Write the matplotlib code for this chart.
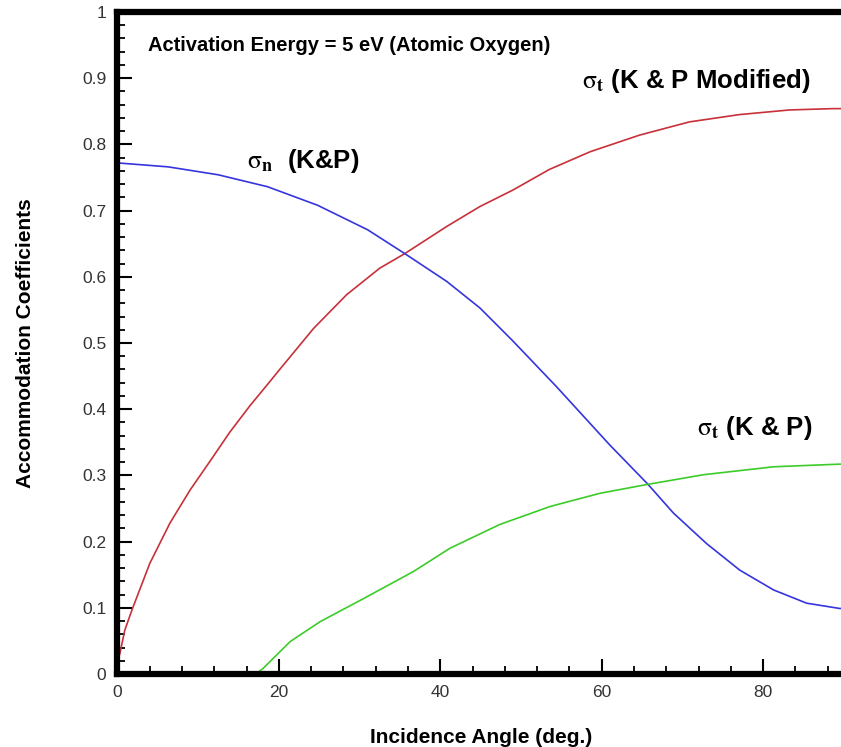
import numpy as np
import matplotlib
matplotlib.use("Agg")
import matplotlib.pyplot as plt
from matplotlib.ticker import MultipleLocator

plt.rcParams['font.family'] = ['Liberation Sans', 'DejaVu Sans']
plt.rcParams['mathtext.fontset'] = 'stix'

# sigma_t (K & P Modified) - red
ang_red = [0, 0.3, 0.9, 1.8, 4.0, 6.5, 9.0, 11.5, 13.9, 16.4, 18.9, 20.1, 24.3, 28.4,
           32.5, 35.6, 40.8, 44.9, 49.0, 53.5, 58.6, 64.7, 70.9, 77.1, 83.3, 88.7, 90]
sig_red = [0.02, 0.031, 0.066, 0.097, 0.167, 0.228, 0.278, 0.322, 0.365, 0.405, 0.442, 0.46,
           0.522, 0.573, 0.613, 0.635, 0.676, 0.706, 0.731, 0.762, 0.789, 0.814, 0.834,
           0.845, 0.852, 0.854, 0.854]

# sigma_n (K&P) - blue
ang_blue = [0, 6.3, 12.5, 18.6, 24.8, 31.0, 35.6, 40.8, 44.9, 49.0, 54.4, 61.0, 65.7,
            68.9, 73.0, 77.1, 81.3, 85.4, 89.5, 90]
sig_blue = [0.772, 0.766, 0.754, 0.736, 0.708, 0.671, 0.635, 0.593, 0.553, 0.503, 0.434,
            0.346, 0.287, 0.243, 0.197, 0.157, 0.127, 0.107, 0.099, 0.099]

# sigma_t (K & P) - green
ang_green = [17.1, 18.0, 21.4, 25.1, 30.5, 36.7, 41.2, 47.4, 53.6, 59.8, 65.5, 72.6,
             81.3, 89.5, 90]
sig_green = [0.0, 0.008, 0.049, 0.079, 0.114, 0.155, 0.19, 0.226, 0.253, 0.273, 0.286,
             0.301, 0.313, 0.317, 0.317]

fig = plt.figure(figsize=(8.41, 7.47), dpi=100)
ax = fig.add_axes([0.1397, 0.0977, 0.8636, 0.8863])

ax.plot(ang_red, sig_red, color='#c8303a', lw=1.2)
ax.plot(ang_blue, sig_blue, color='#3535dd', lw=1.2)
ax.plot(ang_green, sig_green, color='#3ccc2a', lw=1.2)

ax.set_xlim(0, 90)
ax.set_ylim(0, 1)
ax.xaxis.set_minor_locator(MultipleLocator(4))
ax.yaxis.set_minor_locator(MultipleLocator(0.02))
ax.set_xticks([0, 20, 40, 60, 80])
ax.set_xticklabels(['0', '20', '40', '60', '80'])
ax.set_yticks(np.arange(0, 1.01, 0.1))
ax.set_yticklabels(['0', '0.1', '0.2', '0.3', '0.4', '0.5', '0.6', '0.7', '0.8', '0.9', '1'])

ax.tick_params(which='major', direction='in', length=11, width=1.5, labelsize=12.5,
               labelcolor='#333333', pad=8)
ax.tick_params(which='minor', direction='in', length=6, width=1.3)
for s in ax.spines.values():
    s.set_linewidth(4.5)

ax.set_xlabel('Incidence Angle (deg.)', fontsize=15, fontweight='bold', labelpad=20)
ax.set_ylabel('Accommodation Coefficients', fontsize=15, fontweight='bold', labelpad=34)

ax.text(3.8, 0.95, 'Activation Energy = 5 eV (Atomic Oxygen)', fontsize=14.5,
        fontweight='bold', va='center')
ax.text(57.6, 0.895, r'$\mathrm{\sigma}_\mathbf{t}$ (K & P Modified)', fontsize=18.5,
        fontweight='bold', va='center')
ax.text(16.0, 0.775, r'$\mathrm{\sigma}_\mathbf{n}$  (K&P)', fontsize=18.5,
        fontweight='bold', va='center')
ax.text(71.8, 0.372, r'$\mathrm{\sigma}_\mathbf{t}$ (K & P)', fontsize=18.5,
        fontweight='bold', va='center')

fig.savefig('out.png', dpi=100)
